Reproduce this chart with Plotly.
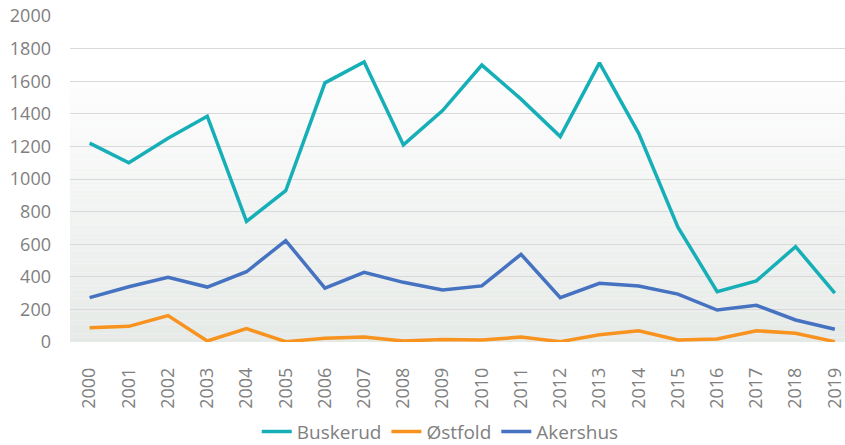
import plotly.graph_objects as go

years = [str(y) for y in range(2000, 2020)]
buskerud = [1220, 1100, 1250, 1385, 740, 928, 1590, 1718, 1209, 1420,
            1699, 1490, 1260, 1712, 1280, 705, 309, 375, 585, 300]
ostfold = [88, 96, 162, 6, 82, 2, 23, 30, 6, 16,
           12, 30, 2, 45, 69, 12, 18, 69, 53, 2]
akershus = [272, 339, 397, 337, 431, 622, 331, 427, 366, 319,
            344, 538, 272, 360, 344, 294, 196, 225, 135, 78]

series_names = ["Buskerud", "Østfold", "Akershus"]
series_colors = ["#17afb7", "#f7931e", "#4672c2"]
yticks = list(range(0, 2001, 200))

fig = go.Figure()
for name, vals, col in zip(series_names, [buskerud, ostfold, akershus], series_colors):
    fig.add_trace(go.Scatter(x=years, y=vals, name=name, mode="lines",
                             line=dict(color=col, width=3.5)))

# gradient background from 1600 down to 0
shapes = []
n = 60
top_c = (253, 253, 253)
bot_c = (230, 234, 231)
for i in range(n):
    y1 = 1600 - 1600 * i / n
    y0 = 1600 - 1600 * (i + 1) / n
    t = (i + 0.5) / n
    c = tuple(round(top_c[k] + (bot_c[k] - top_c[k]) * t) for k in range(3))
    shapes.append(dict(type="rect", xref="paper", yref="y", x0=0, x1=1,
                       y0=y0, y1=y1, line=dict(width=0),
                       fillcolor="rgb(%d,%d,%d)" % c, layer="below"))

fig.update_layout(
    width=845, height=445,
    margin=dict(l=70, r=0, t=16, b=103, autoexpand=False),
    paper_bgcolor="white", plot_bgcolor="white",
    font=dict(family="Open Sans", size=17, color="#808080"),
    shapes=shapes,
    showlegend=True,
    legend=dict(orientation="h", xref="container", yref="container",
                x=0.521, xanchor="center", y=0.03, yanchor="middle",
                font=dict(size=19, color="#808080"), itemwidth=30,
                tracegroupgap=0),
)
fig.update_xaxes(type="category", range=[-0.5, 19.26], tickangle=-90,
                 showgrid=False, showline=False, zeroline=False,
                 ticks="", ticklabelstandoff=21, automargin=False,
                 tickfont=dict(size=18, color="#808080"))
fig.update_yaxes(range=[0, 2000], tickvals=yticks, showgrid=True,
                 gridcolor="#d9d9d9", gridwidth=1, zeroline=False,
                 showline=False, ticks="", ticklabelstandoff=18, automargin=False,
                 tickfont=dict(size=18, color="#808080"))

fig.write_html("out.html", config={"displayModeBar": False},
               post_script="document.body.style.margin='0';document.body.style.overflow='hidden';")
